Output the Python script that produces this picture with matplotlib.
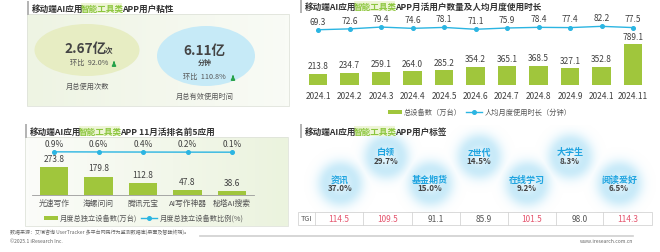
import matplotlib
matplotlib.use("Agg")
import matplotlib.pyplot as plt
import numpy as np
from matplotlib.patches import Ellipse, Rectangle
from matplotlib.colors import to_rgb

plt.rcParams["font.family"] = ["Noto Sans CJK SC", "DejaVu Sans"]

# ── data ───────────────────────────────────────────────────────────────
STICKY_NAMES = ["月总使用次数", "月总有效使用时间"]
STICKY_VALUES = ["2.67亿", "6.11亿"]
STICKY_UNITS = ["次", "分钟"]
STICKY_MOM = [92.0, 110.8]

MONTHS = ["2024.1", "2024.2", "2024.3", "2024.4", "2024.5", "2024.6",
          "2024.7", "2024.8", "2024.9", "2024.1", "2024.11"]
DEVICES = [213.8, 234.7, 259.1, 264.0, 285.2, 354.2, 365.1, 368.5, 327.1, 352.8, 789.1]
USAGE_MIN = [69.3, 72.6, 79.4, 74.6, 78.1, 71.1, 75.9, 78.4, 77.4, 82.2, 77.5]

APPS = ["光速写作", "海螺问问", "腾讯元宝", "AI写作神器", "秘塔AI搜索"]
APP_DEVICES = [273.8, 179.8, 112.8, 47.8, 38.6]
APP_SHARE = [0.9, 0.6, 0.4, 0.2, 0.1]

TAGS = ["资讯", "白领", "基金期货", "Z世代", "在线学习", "大学生", "阅读爱好"]
TAG_SHARE = [37.0, 29.7, 15.0, 14.5, 9.2, 8.3, 6.5]
TAG_TGI = [114.5, 109.5, 91.1, 85.9, 101.5, 98.0, 114.3]

# ── style / layout ─────────────────────────────────────────────────────
W, H = 660, 253
GREEN = "#a0c63c"
TITLE_GREEN = "#8cc63f"
BLUE = "#2bb5e2"
DARK = "#333333"
MID = "#555555"
PINK = "#e5566f"
TAG_XY = [(340, 184), (386, 157), (430, 184), (479, 157), (527, 184), (570, 157), (619, 184)]
TGI_EDGES = [298, 315, 363, 412, 460, 508, 556, 603, 652]

fig = plt.figure(figsize=(W / 100, H / 100), dpi=100)
bg = fig.add_axes([0, 0, 1, 1])
bg.set_xlim(0, W)
bg.set_ylim(H, 0)
bg.axis("off")
R = fig.canvas.get_renderer()


def px_rect(x0, y0, x1, y1):
    return [x0 / W, 1 - y1 / H, (x1 - x0) / W, (y1 - y0) / H]


def seg_text(x, y, parts, ha="left", va="center", trim=0.0):
    texts, widths = [], []
    for s, c, size, weight in parts:
        t = bg.text(0, y, s, color=c, fontsize=size, fontweight=weight, ha="left", va=va, zorder=5)
        texts.append(t)
        widths.append(t.get_window_extent(R).width - trim)
    start = x - sum(widths) / 2 if ha == "center" else x
    spans = []
    for t, w in zip(texts, widths):
        t.set_x(start)
        spans.append((start, start + w))
        start += w
    return spans


def title(x, y, tail):
    bg.add_patch(Rectangle((x - 5, y - 7), 2, 14, color="#b5b5b5", lw=0))
    spans = seg_text(x, y, [("移动端AI应用", DARK, 6.2, "bold"),
                            ("智能工具类", TITLE_GREEN, 6.2, "bold"),
                            (tail, DARK, 6.2, "bold")], trim=2.5)
    x0, x1 = spans[1]
    bg.add_patch(Rectangle((x0 - 0.5, y - 5), x1 - x0 + 1, 10, color="#eef5d6", lw=0, zorder=2))


def legend(x, y, bar_label, line_label, size):
    bg.add_patch(Rectangle((x, y - 2), 14, 4, color=GREEN, lw=0, zorder=3))
    t = bg.text(x + 16, y, bar_label, fontsize=size, color=MID, va="center", zorder=5)
    lx = x + 16 + t.get_window_extent(R).width + 4
    bg.plot([lx, lx + 16], [y, y], color=BLUE, lw=1, zorder=4)
    bg.plot([lx + 8], [y], "o", color=BLUE, ms=2.6, zorder=4)
    bg.text(lx + 19, y, line_label, fontsize=size, color=MID, va="center", zorder=5)


def gradient(x0, y0, x1, y1, c_left, c_right):
    cl, cr = np.array(to_rgb(c_left)), np.array(to_rgb(c_right))
    t = np.linspace(0, 1, 64)[None, :, None]
    img = cl * (1 - t) + cr * t
    bg.imshow(img, extent=[x0, x1, y1, y0], aspect="auto", zorder=0)
    bg.add_patch(Rectangle((x0, y0), x1 - x0, y1 - y0, fill=False, ec="#dfe3da", lw=0.6, zorder=1))


def up_arrow(x, y):
    bg.annotate("", xy=(x, y - 3.5), xytext=(x, y + 3.5),
                arrowprops=dict(arrowstyle="-|>", color="#27a24a", lw=1.3, mutation_scale=5), zorder=5)


# ── top-left: stickiness ───────────────────────────────────────────────
gradient(27, 15, 289, 107, "#eef4e3", "#f9fbf6")
title(32, 9, "APP用户粘性")
bg.add_patch(Ellipse((87, 51), 105, 52, color="#e7edc3", lw=0, zorder=2))
bg.add_patch(Ellipse((206, 57), 98, 60, color="#c6eaf7", lw=0, zorder=2))

seg_text(88, 52.5, [(STICKY_VALUES[0], "#444444", 9.8, "bold"), (STICKY_UNITS[0], "#444444", 5.5, "bold")],
         ha="center", va="baseline", trim=1.0)
bg.text(89, 63, f"环比  {STICKY_MOM[0]:.1f}%", fontsize=5.2, color=MID, ha="center", va="center", zorder=5)
up_arrow(114, 63)
bg.text(88, 87, STICKY_NAMES[0], fontsize=5.2, color=MID, ha="center", va="center", zorder=5)

bg.text(204, 51, STICKY_VALUES[1], fontsize=9.8, fontweight="bold", color="#444444", ha="center", va="center", zorder=5)
bg.text(205, 62.5, STICKY_UNITS[1], fontsize=5, fontweight="bold", color="#444444", ha="center", va="center", zorder=5)
bg.text(204, 77, f"环比  {STICKY_MOM[1]:.1f}%", fontsize=5.2, color=MID, ha="center", va="center", zorder=5)
up_arrow(233, 77)
bg.text(205, 97, STICKY_NAMES[1], fontsize=5.2, color=MID, ha="center", va="center", zorder=5)

# ── top-right: MAU + usage time ────────────────────────────────────────
title(305, 7, "APP月活用户数量及人均月度使用时长")
ax1 = fig.add_axes(px_rect(302.25, 20, 648.75, 86))
x = np.arange(len(MONTHS))
ax1.bar(x, DEVICES, width=0.6, color=GREEN)
for xi, v in zip(x, DEVICES):
    ax1.annotate(f"{v:.1f}", (xi, v), xytext=(0, 2.5), textcoords="offset points",
                 ha="center", va="bottom", fontsize=6, color="#404040")
ax1.set_xlim(-0.5, len(MONTHS) - 0.5)
ax1.set_ylim(0, 1270)
ax1.set_xticks(x, MONTHS, fontsize=6, color="#404040")
ax1.set_yticks([])
ax1.tick_params(length=0, pad=4)
for s in ax1.spines.values():
    s.set_visible(False)
ax1.patch.set_alpha(0)
ax1b = ax1.twinx()
ax1b.plot(x, USAGE_MIN, color=BLUE, lw=1, marker="o", ms=2.6)
for xi, v in zip(x, USAGE_MIN):
    ax1b.annotate(f"{v:.1f}", (xi, v), xytext=(0, 3), textcoords="offset points",
                  ha="center", va="bottom", fontsize=6, color="#404040")
ax1b.set_ylim(-140, 110)
ax1b.set_yticks([])
for s in ax1b.spines.values():
    s.set_visible(False)

legend(388, 113, "总设备数（万台）", "人均月度使用时长（分钟）", 5.2)

# ── bottom-left: top 5 apps ────────────────────────────────────────────
gradient(25, 138, 288, 227, "#fbfcf9", "#ebf3de")
title(30, 132, "APP 11月活排名前5应用")
ax2 = fig.add_axes(px_rect(31.75, 140, 254.25, 196))
xa = np.arange(len(APPS))
ax2.bar(xa, APP_DEVICES, width=0.63, color=GREEN)
for xi, v in zip(xa, APP_DEVICES):
    ax2.annotate(f"{v:.1f}", (xi, v), xytext=(0, 3), textcoords="offset points",
                 ha="center", va="bottom", fontsize=6, color="#404040")
ax2.set_xlim(-0.5, len(APPS) - 0.5)
ax2.set_ylim(0, 547.6)
ax2.set_xticks(xa, APPS, fontsize=5.6, color=MID)
ax2.set_yticks([])
ax2.tick_params(length=0, pad=3)
for k in ["top", "left", "right"]:
    ax2.spines[k].set_visible(False)
ax2.spines["bottom"].set_color("#9a9a9a")
ax2.spines["bottom"].set_linewidth(0.6)
ax2.patch.set_alpha(0)
# share line sits on a very wide secondary scale, so it reads as flat
ax2b = ax2.twinx()
ax2b.plot(xa, APP_SHARE, color=BLUE, lw=1, marker="o", ms=2.6)
for xi, v in zip(xa, APP_SHARE):
    ax2b.annotate(f"{v:.1f}%", (xi, v), xytext=(0, 3), textcoords="offset points",
                  ha="center", va="bottom", fontsize=6, color="#404040")
ax2b.set_ylim(-100, 30.9)
ax2b.set_yticks([])
for s in ax2b.spines.values():
    s.set_visible(False)

legend(44, 219, "月度总独立设备数(万台)", "月度总独立设备数比例(%)", 5.2)

# ── bottom-right: user tags ────────────────────────────────────────────
title(305, 132, "APP用户标签")
gx, gy = np.meshgrid(np.arange(298, 660, 1.0), np.arange(126, 214, 1.0))
alpha = np.zeros_like(gx)
for cx, cy in TAG_XY:
    d = np.hypot(gx - cx, gy - cy)
    a = 0.38 * np.exp(-((d - 15) / 9.0) ** 2) + 0.2 * np.exp(-(d / 18) ** 2)
    alpha = np.maximum(alpha, a)
glow = np.zeros(gx.shape + (4,))
glow[..., :3] = to_rgb("#8ed4f2")
glow[..., 3] = np.clip(alpha, 0, 1)
bg.imshow(glow, extent=[298, 660, 214, 126], aspect="auto", zorder=1, interpolation="bilinear")

for (cx, cy), name, share in zip(TAG_XY, TAGS, TAG_SHARE):
    bg.text(cx, cy - 4, name, fontsize=6.5, fontweight="bold", color="#1fa4e0", ha="center", va="center", zorder=5)
    bg.text(cx, cy + 4.5, f"{share:.1f}%", fontsize=5.8, fontweight="bold", color="#444444", ha="center", va="center", zorder=5)

bg.add_patch(Rectangle((298, 213), 652 - 298, 13, fill=False, ec="#d4d4d4", lw=0.6, zorder=3))
for xe in TGI_EDGES[1:-1]:
    bg.plot([xe, xe], [213, 226], color="#d4d4d4", lw=0.6, zorder=3)
bg.text(306.5, 219.5, "TGI", fontsize=5.2, color=MID, ha="center", va="center", zorder=5)
for i, v in enumerate(TAG_TGI):
    xc = (TGI_EDGES[i + 1] + TGI_EDGES[i + 2]) / 2
    bg.text(xc, 219.5, f"{v:.1f}", fontsize=6, color=PINK if v > 100 else MID,
            ha="center", va="center", zorder=5)

# ── footer ─────────────────────────────────────────────────────────────
bg.plot([200, 633], [237, 237], color="#cfcfcf", lw=1.2)
bg.text(10, 232, "数据来源：艾瑞咨询 UserTracker 多平台网民行为监测数据库(桌面及智能终端)。",
        fontsize=3.6, color="#666666", va="center")
bg.text(10, 241.5, "©2025.1 iResearch Inc.", fontsize=3.6, color="#666666", va="center")
bg.text(633, 242, "www.iresearch.com.cn", fontsize=3.6, color="#666666", ha="right", va="center")

bg.set_xlim(0, W)
bg.set_ylim(H, 0)
fig.savefig("out.png", dpi=100)
